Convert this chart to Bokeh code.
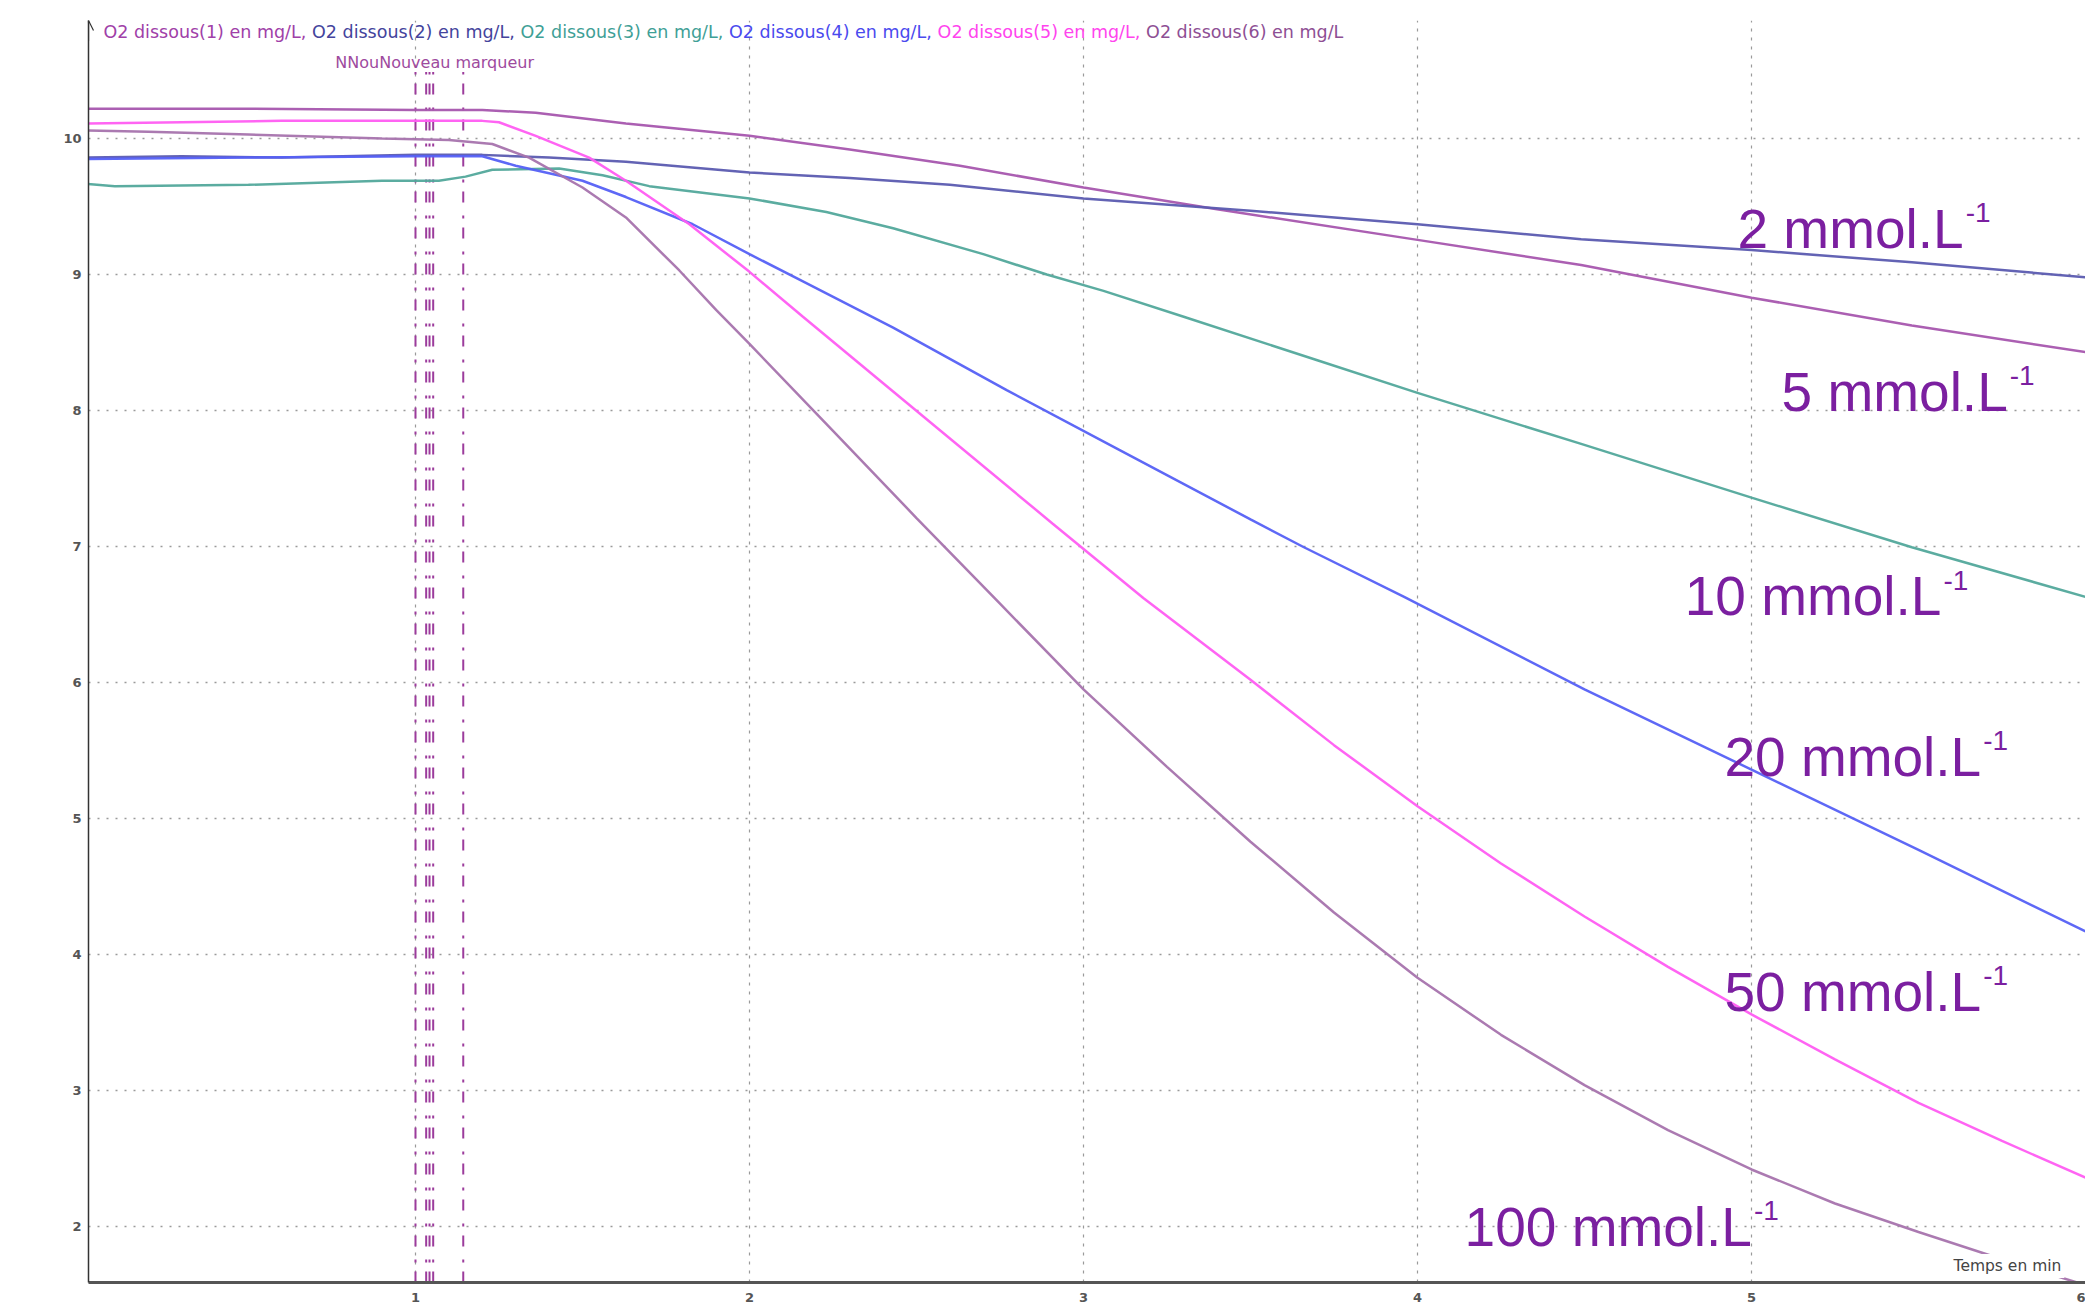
from bokeh.plotting import figure
from bokeh.models import Range1d, FixedTicker, Label, Arrow, OpenHead, ColumnDataSource
from bokeh.core.properties import value
from bokeh.embed import file_html
from bokeh.resources import INLINE

# ---------------- data ----------------
series_names = ["O2 dissous(1) en mg/L", "O2 dissous(2) en mg/L", "O2 dissous(3) en mg/L",
                "O2 dissous(4) en mg/L", "O2 dissous(5) en mg/L", "O2 dissous(6) en mg/L"]
conc_labels = ["5 mmol.L", "2 mmol.L", "10 mmol.L", "20 mmol.L", "50 mmol.L", "100 mmol.L"]
conc_sup = ["-1", "-1", "-1", "-1", "-1", "-1"]

t1 = [0.0, 0.5, 1.0, 1.2, 1.36, 1.63, 2.0, 2.3, 2.63, 3.0, 3.4, 4.0, 4.49, 5.0, 5.48, 6.0]
o1 = [10.22, 10.22, 10.21, 10.21, 10.19, 10.11, 10.02, 9.92, 9.80, 9.64, 9.48, 9.255, 9.07, 8.83, 8.625, 8.43]

t2 = [0.0, 0.3, 0.6, 1.0, 1.2, 1.4, 1.63, 2.0, 2.3, 2.6, 3.0, 3.5, 4.0, 4.49, 5.0, 5.48, 6.0]
o2 = [9.86, 9.87, 9.86, 9.88, 9.88, 9.86, 9.83, 9.75, 9.71, 9.66, 9.56, 9.47, 9.37, 9.26, 9.18, 9.09, 8.98]

t3 = [0.0, 0.1, 0.5, 0.9, 1.07, 1.15, 1.23, 1.43, 1.56, 1.70, 2.0, 2.23, 2.43, 2.70, 2.89, 3.06,
      3.3, 3.7, 4.0, 4.49, 5.0, 5.48, 6.0]
o3 = [9.67, 9.65, 9.66, 9.69, 9.69, 9.72, 9.77, 9.78, 9.73, 9.65, 9.56, 9.46, 9.34, 9.15, 9.0, 8.88,
      8.69, 8.37, 8.13, 7.755, 7.36, 6.995, 6.63]

t4 = [0.0, 0.5, 1.0, 1.2, 1.30, 1.50, 1.63, 1.83, 2.0, 2.16, 2.43, 2.77, 3.1, 3.5, 3.66, 3.96,
      4.5, 5.0, 5.5, 6.0]
o4 = [9.85, 9.86, 9.87, 9.87, 9.80, 9.69, 9.57, 9.37, 9.15, 8.95, 8.61, 8.15, 7.72, 7.2, 6.995, 6.63,
      5.95, 5.36, 4.77, 4.17]

t5 = [0.0, 0.3, 0.6, 1.0, 1.2, 1.25, 1.36, 1.52, 1.63, 1.82, 2.0, 2.16, 2.43, 2.907, 3.18, 3.5,
      3.75, 4.0, 4.25, 4.5, 4.75, 5.0, 5.25, 5.5, 5.75, 6.0]
o5 = [10.11, 10.12, 10.13, 10.13, 10.13, 10.12, 10.02, 9.86, 9.69, 9.37, 9.02, 8.69, 8.14, 7.17, 6.62, 6.02,
      5.54, 5.09, 4.67, 4.28, 3.91, 3.56, 3.23, 2.91, 2.63, 2.36]

t6 = [0.0, 0.2, 0.5, 0.9, 1.1, 1.23, 1.34, 1.50, 1.63, 1.79, 1.90, 2.0, 2.25, 2.5, 2.75, 3.0,
      3.25, 3.5, 3.75, 4.0, 4.25, 4.5, 4.75, 5.0, 5.25, 5.5, 5.75, 6.0]
o6 = [10.06, 10.05, 10.03, 10.0, 9.99, 9.96, 9.86, 9.64, 9.42, 9.03, 8.74, 8.49, 7.85, 7.21, 6.58, 5.95,
      5.38, 4.83, 4.31, 3.83, 3.41, 3.04, 2.71, 2.42, 2.17, 1.96, 1.76, 1.57]

marker_times = [1.0, 1.032, 1.042, 1.053, 1.143]
marker_text = "NNouNouveau marqueur"

x_ticks = [1, 2, 3, 4, 5, 6]
y_ticks = [2, 3, 4, 5, 6, 7, 8, 9, 10]
x_axis_name = "Temps en min"

# ---------------- style / layout ----------------
colors = ["#A656AE", "#5B5BB0", "#52A89B", "#5560F5", "#FF5CF2", "#A673AD"]
text_colors = ["#A040A8", "#44449C", "#3FA096", "#4A4AEE", "#FF44EE", "#8E4F94"]
label_color = "#7B1FA0"

X_MIN, X_MAX = 0.021, 6.0
Y_MIN, Y_MAX = 1.589, 10.868

p = figure(width=2085, height=1312,
           x_range=Range1d(X_MIN, X_MAX), y_range=Range1d(Y_MIN, Y_MAX),
           output_backend="svg", toolbar_location=None,
           min_border_left=88, min_border_right=0, min_border_top=20, min_border_bottom=30)
p.background_fill_color = "white"
p.border_fill_color = "white"
p.outline_line_color = None

# grids
p.xgrid.ticker = FixedTicker(ticks=x_ticks)
p.ygrid.ticker = FixedTicker(ticks=y_ticks)
p.xgrid.grid_line_color = "#9a9a9a"
p.xgrid.grid_line_dash = "3 6"
p.xgrid.grid_line_width = 1.2
p.ygrid.grid_line_color = "#9a9a9a"
p.ygrid.grid_line_dash = "2 7"
p.ygrid.grid_line_width = 1.5

# axes
p.xaxis.ticker = FixedTicker(ticks=x_ticks)
p.yaxis.ticker = FixedTicker(ticks=y_ticks)
for ax in (p.xaxis, p.yaxis):
    ax.major_tick_line_color = None
    ax.minor_tick_line_color = None
    ax.major_tick_out = 0
    ax.major_tick_in = 0
    ax.major_label_text_font = "DejaVu Sans"
    ax.major_label_text_font_size = "13px"
    ax.major_label_text_font_style = "bold"
    ax.major_label_text_color = "#555555"
p.yaxis.major_label_standoff = 7
p.xaxis.major_label_standoff = 10
p.yaxis.axis_line_color = "#333333"
p.yaxis.axis_line_width = 1.5
p.xaxis.axis_line_color = "#555555"
p.xaxis.axis_line_width = 3

# markers (vertical dash-dot lines)
p.segment(x0=marker_times, y0=[Y_MIN] * len(marker_times),
          x1=marker_times, y1=[10.49] * len(marker_times),
          line_color="#9C3C9C", line_width=2, line_dash="11 9 3 13")
p.text(x=[marker_times[0] - 0.24], y=[10.56], text=[marker_text],
       text_font=value("DejaVu Sans"), text_font_size="16px", text_color="#9E4A9E",
       text_baseline="middle", text_align="left")

# curves
ts = [t1, t2, t3, t4, t5, t6]
os_ = [o1, o2, o3, o4, o5, o6]
for t, o, c in zip(ts, os_, colors):
    p.line(t, o, line_color=c, line_width=2.5, line_alpha=0.95)

# series name strip at the top
leg_x = [0.066 + k * 0.6243 for k in range(len(series_names))]
for k, (nm, c) in enumerate(zip(series_names, text_colors)):
    txt = nm + ("," if k < len(series_names) - 1 else "")
    p.text(x=[leg_x[k]], y=[10.78], text=[txt], text_font=value("DejaVu Sans"),
           text_font_size="17.5px", text_color=c, text_baseline="middle", text_align="left")

# concentration labels
lab_x = [5.09, 4.958, 4.80, 4.919, 4.919, 4.141]
lab_y = [8.14, 9.335, 6.635, 5.456, 3.725, 2.0]
arial = {"0": 556, "1": 556, "2": 556, "5": 556, " ": 278, "m": 833, "o": 556,
         "l": 222, ".": 278, "L": 556}
MAIN_FS = 55
sup_dx = [sum(arial.get(ch, 556) for ch in s) / 1000 * MAIN_FS + 2 for s in conc_labels]
src = ColumnDataSource(dict(x=lab_x, y=lab_y, t=conc_labels, s=conc_sup, dx=sup_dx))
p.text(x="x", y="y", text="t", source=src, text_font=value("Liberation Sans"),
       text_font_size=f"{MAIN_FS}px", text_color=label_color,
       text_baseline="alphabetic", text_align="left")
p.text(x="x", y="y", text="s", source=src, x_offset="dx", y_offset=-16,
       text_font=value("Liberation Sans"), text_font_size="28px", text_color=label_color,
       text_baseline="alphabetic", text_align="left")

# x axis name, with white box hiding the curve behind it
p.add_layout(Label(x=5.596, y=1.71, text=x_axis_name, text_font="DejaVu Sans",
                   text_font_size="15.5px", text_color="#444444", text_baseline="middle",
                   background_fill_color="white", padding=3))

# y axis arrow head
p.add_layout(Arrow(end=OpenHead(size=10, line_width=1.2, line_color="#333333"),
                   x_start=X_MIN, y_start=Y_MAX - 0.15, x_end=X_MIN, y_end=Y_MAX,
                   line_color="#333333", line_width=1.2))

open("out.html", "w").write(file_html(p, INLINE))
